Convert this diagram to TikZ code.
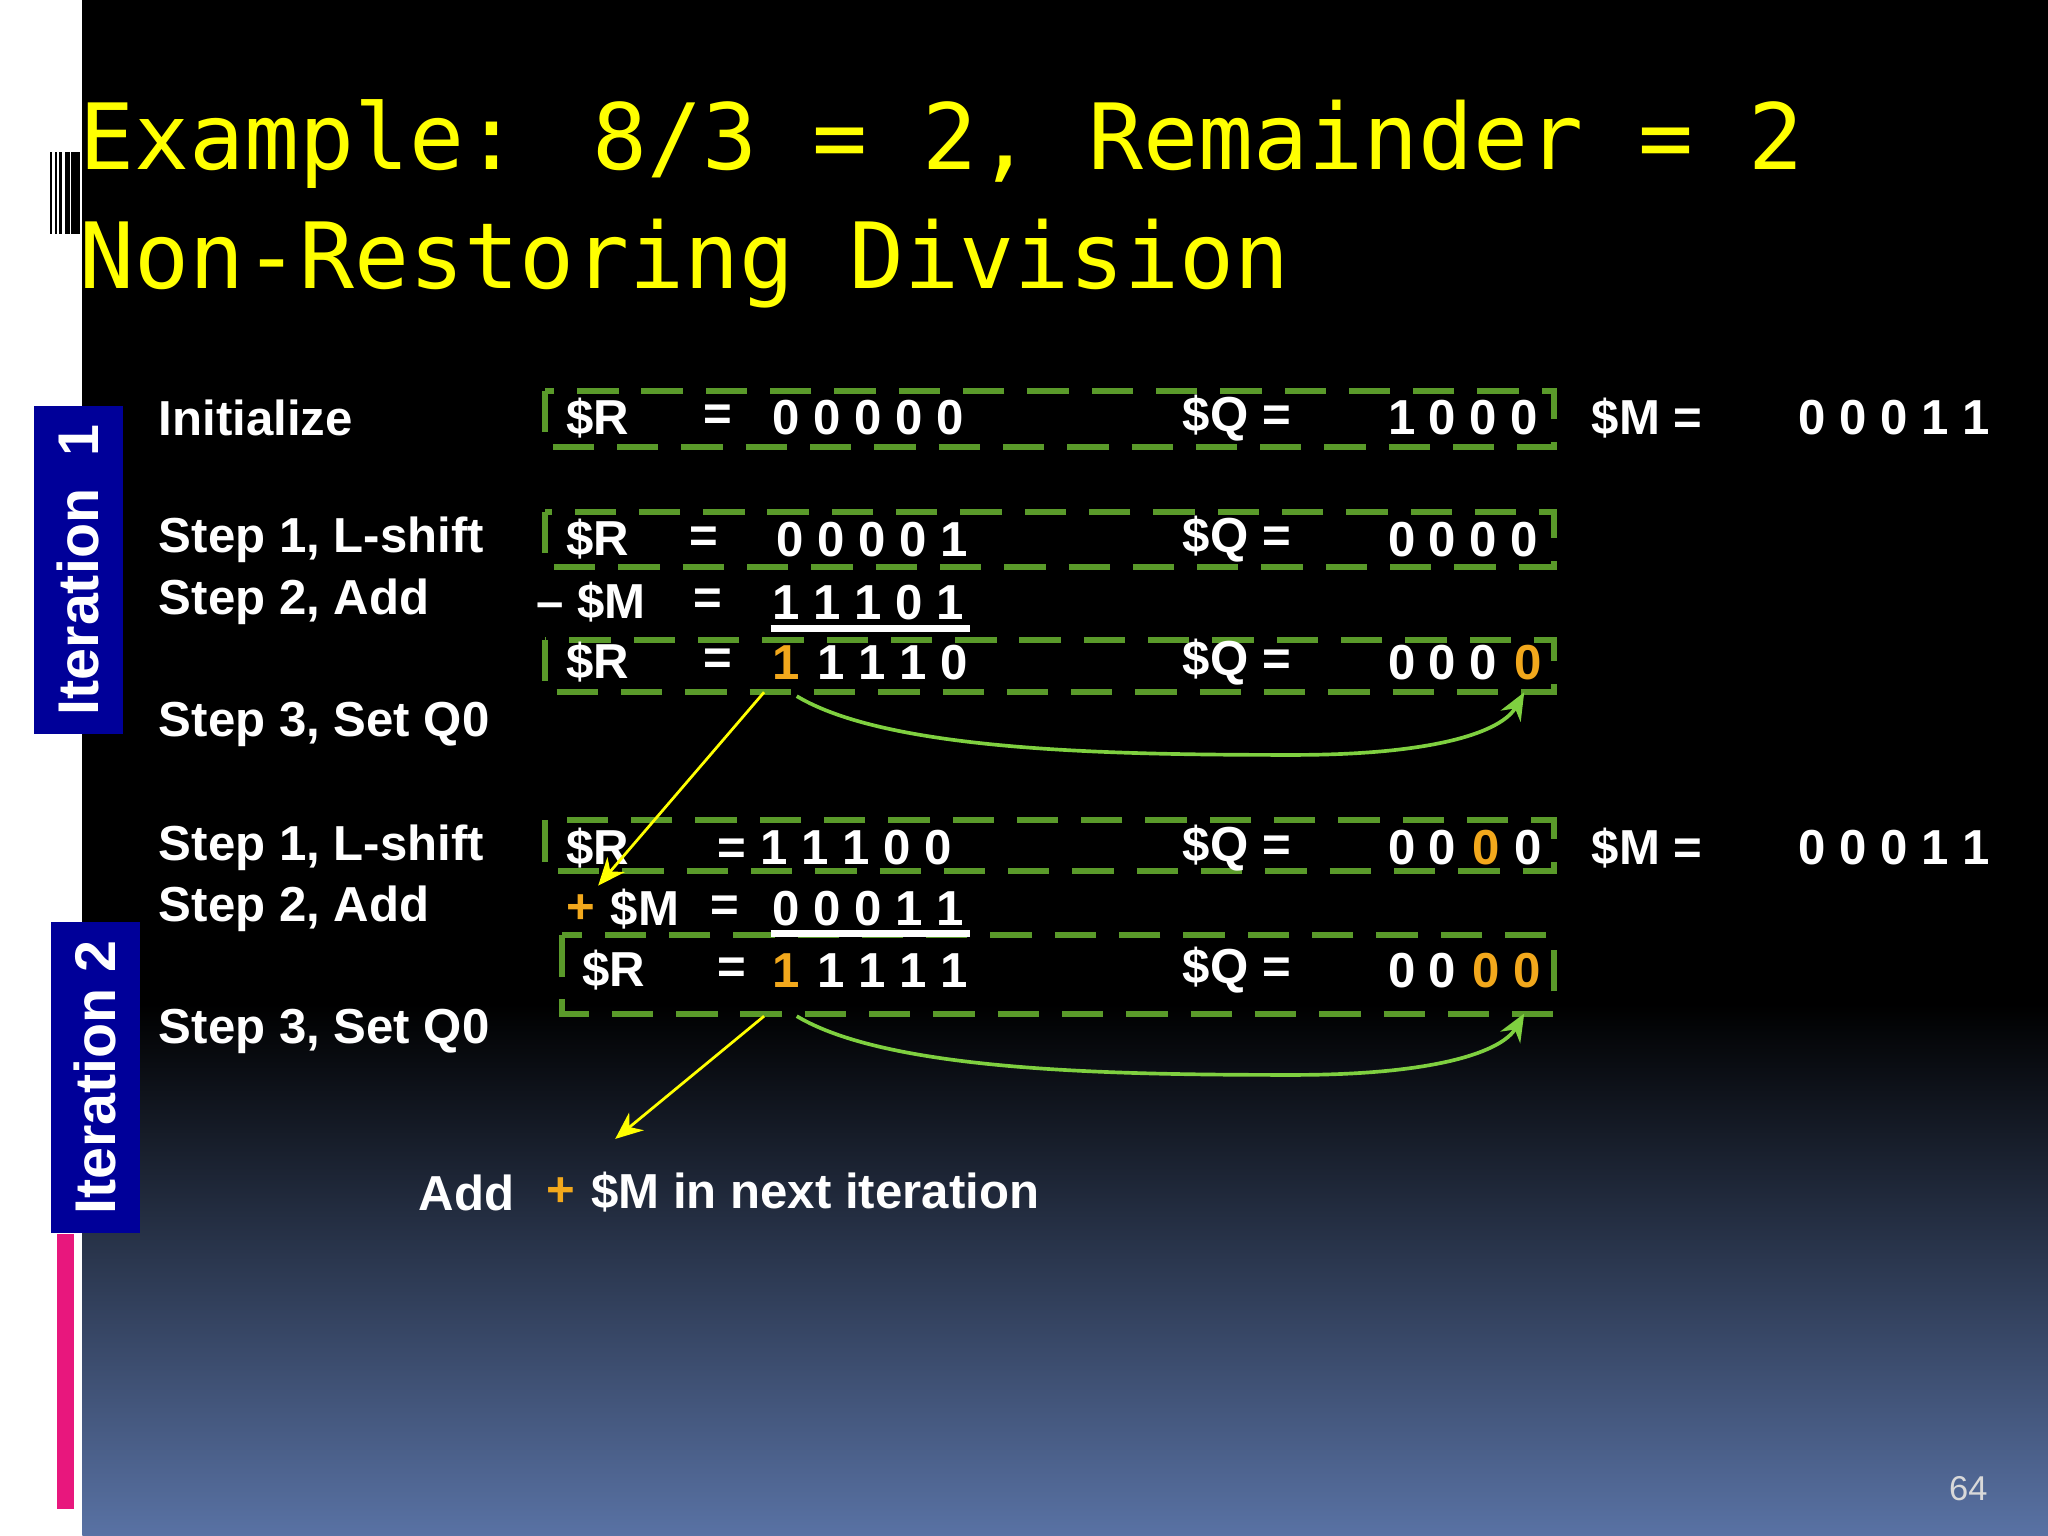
\documentclass[tikz,border=0pt]{standalone}
\usepackage{fontspec}
\setmainfont{Liberation Sans}
\newfontfamily\titlefont{DejaVu Sans Mono}
\usetikzlibrary{arrows.meta}
\definecolor{ttl}{HTML}{FFFF00}
\definecolor{org}{HTML}{F2A81C}
\definecolor{dgreen}{HTML}{5A9A2A}
\definecolor{lgreen}{HTML}{7FD040}
\definecolor{itblue}{HTML}{000099}
\definecolor{pinkbar}{HTML}{E8177D}
\definecolor{botblue}{HTML}{5972A4}
\tikzset{
  txt/.style={anchor=west,inner sep=0pt,text=white,font=\fontsize{10.7}{12}\selectfont\bfseries},
  otxt/.style={txt,text=org},
  ttxt/.style={anchor=west,inner sep=0pt,text=ttl,font=\titlefont\fontsize{19.9}{22}\selectfont},
  dbox/.style={draw=dgreen,line width=1.3pt,dash pattern=on 9pt off 5pt},
  itlab/.style={fill=itblue,text=white,rotate=90,inner sep=0pt,font=\fontsize{12.5}{14}\selectfont\bfseries},
  yarr/.style={draw=ttl,line width=0.6pt,-{Stealth[length=6pt,width=5pt]}},
  garr/.style={draw=lgreen,line width=0.8pt,-{Stealth[length=6pt,width=5pt]}}
}
\begin{document}
\begin{tikzpicture}[x=0.01cm,y=-0.01cm]
\useasboundingbox (0,0) rectangle (1568,1176);
\fill[white] (0,0) rectangle (1568,1176);
\fill[black] (63,0) rectangle (1568,770);
\shade[top color=black,bottom color=botblue] (63,769) rectangle (1568,1176);
% barcode decoration
\foreach \a/\b in {38/39.5,42/44,45.5/47.5,49.5/53.5,54.5/61}{\fill[black] (\a,116) rectangle (\b,179);}
\fill[pinkbar] (44,945) rectangle (57,1155);
% title
\node[ttxt] (t1) at (60,110) {Example: 8/3 = 2, Remainder = 2};
\node[ttxt] (t2) at (60,202) {Non-Restoring Division};
% iteration labels
\node[itlab,minimum width=251\pgflinewidth*0+2.51cm,minimum height=0.68cm] (it1) at (60,436.5) {Iteration~~1};
\node[itlab,minimum width=2.38cm,minimum height=0.68cm] (it2) at (73,825) {Iteration 2};
% dashed boxes
\draw[dbox] (417,299) rectangle (1190,342);
\draw[dbox] (417,392) rectangle (1190,434);
\draw[dbox] (417,490) rectangle (1190,530);
\draw[dbox] (417,628) rectangle (1190,667);
\draw[dbox] (430,716) rectangle (1190,776);
% step labels
\node[txt] (l0) at (121,320) {Initialize};
\node[txt] (l1) at (121,413) {Step 1, L-shift};
\node[txt] (l2) at (121,461) {Step 2, Add};
\node[txt] (l3) at (121,555) {Step 3, Set Q0};
\node[txt] (l4) at (121,649) {Step 1, L-shift};
\node[txt] (l5) at (121,696) {Step 2, Add};
\node[txt] (l6) at (121,790) {Step 3, Set Q0};
% row init
\node[txt] (r0a) at (433,320) {\$R};
\node[txt] (r0b) at (538,320) {=};
\node[txt] (r0c) at (591,320) {0 0 0 0 0};
\node[txt] (r0d) at (905,320) {\$Q =};
\node[txt] (r0e) at (1062,320) {1 0 0 0};
\node[txt] (r0f) at (1218,320) {\$M =};
\node[txt] (r0g) at (1376,320) {0 0 0 1 1};
% row 2
\node[txt] (r1a) at (433,413) {\$R};
\node[txt] (r1b) at (527,413) {=};
\node[txt] (r1c) at (594,413) {0 0 0 0 1};
\node[txt] (r1d) at (905,413) {\$Q =};
\node[txt] (r1e) at (1062,413) {0 0 0 0};
% row 3
\node[txt] (r2a) at (410,461) {– \$M};
\node[txt] (r2b) at (530,461) {=};
\node[txt] (r2c) at (591,461) {1 1 1 0 1};
\draw[white,line width=1.5pt] (590,481) -- (743,481);
% row 4
\node[txt] (r3a) at (433,507) {\$R};
\node[txt] (r3b) at (538,507) {=};
\node[otxt] (r3c) at (591,507) {1};
\node[txt] (r3d) at (625,507) {1 1 1 0};
\node[txt] (r3e) at (905,507) {\$Q =};
\node[txt] (r3f) at (1062,507) {0 0 0};
\node[otxt] (r3g) at (1159,507) {0};
% row 5
\node[txt] (r4a) at (433,649) {\$R};
\node[txt] (r4b) at (549,649) {= 1 1 1 0 0};
\node[txt] (r4c) at (905,649) {\$Q =};
\node[txt] (r4d) at (1062,649) {0 0};
\node[otxt] (r4e) at (1127,649) {0};
\node[txt] (r4f) at (1159,649) {0};
\node[txt] (r4g) at (1218,649) {\$M =};
\node[txt] (r4h) at (1376,649) {0 0 0 1 1};
% row 6
\node[otxt] (r5a) at (433,696) {+};
\node[txt] (r5b) at (467,696) {\$M};
\node[txt] (r5c) at (543,696) {=};
\node[txt] (r5d) at (591,696) {0 0 0 1 1};
\draw[white,line width=1.5pt] (590,715) -- (743,715);
% row 7
\node[txt] (r6a) at (445,743) {\$R};
\node[txt] (r6b) at (549,743) {=};
\node[otxt] (r6c) at (591,743) {1};
\node[txt] (r6d) at (625,743) {1 1 1 1};
\node[txt] (r6e) at (905,743) {\$Q =};
\node[txt] (r6f) at (1062,743) {0 0};
\node[otxt] (r6g) at (1127,743) {0 0};
% bottom note
\node[txt] (n1) at (320,913) {Add};
\node[otxt] (n2) at (418,913) {+};
\node[txt] (n3) at (452,913) {\$M in next iteration};
\node[anchor=center,inner sep=0pt,text=black!15,font=\fontsize{7.5}{9}\selectfont] (pg) at (1507,1140) {64};
% connectors
\coordinate (ya1) at (585,530);
\coordinate (ya2) at (458,678);
\coordinate (yb1) at (585,778);
\coordinate (yb2) at (471,872);
\draw[yarr] (ya1) -- (ya2);
\draw[yarr] (yb1) -- (yb2);
\coordinate (ga1) at (610,533);
\coordinate (ga2) at (1167,530);
\coordinate (gb1) at (610,778);
\coordinate (gb2) at (1167,776);
\draw[garr] (ga1) .. controls (680,575) and (850,578) .. (990,578) .. controls (1100,578) and (1150,560) .. (ga2);
\draw[garr] (gb1) .. controls (680,820) and (850,823) .. (990,823) .. controls (1100,823) and (1150,805) .. (gb2);
\end{tikzpicture}
\end{document}
